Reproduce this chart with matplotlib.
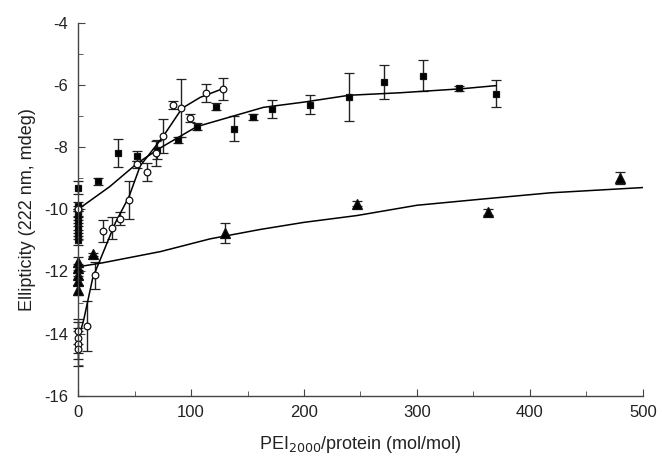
import matplotlib.pyplot as plt
from matplotlib.ticker import MultipleLocator

plt.rcParams['font.family'] = ['Liberation Sans', 'DejaVu Sans']
plt.rcParams['axes.unicode_minus'] = False

# filled squares
sq_x = [0, 0, 0, 0, 0, 0, 0, 0, 18, 35, 52, 70, 88, 105, 122, 138, 155, 172, 205, 240, 271, 305, 337, 370]
sq_y = [-9.3, -9.9, -10.05, -10.2, -10.4, -10.6, -10.8, -11.0, -9.1, -8.2, -8.28, -8.08, -7.76, -7.34,
        -6.7, -7.41, -7.02, -6.77, -6.63, -6.38, -5.9, -5.7, -6.1, -6.28]
sq_err = [0.2, 0.15, 0.15, 0.15, 0.15, 0.15, 0.15, 0.15, 0.12, 0.45, 0.15, 0.3, 0.1, 0.12,
          0.12, 0.4, 0.1, 0.3, 0.3, 0.78, 0.55, 0.5, 0.08, 0.43]
sq_fit_x = [0, 28, 53, 73, 105, 164, 200, 240, 285, 340, 370]
sq_fit_y = [-10.0, -9.27, -8.5, -8.02, -7.34, -6.72, -6.55, -6.33, -6.25, -6.12, -6.02]

# open circles
ci_x = [0, 0, 0, 0, 0, 8, 15, 22, 30, 37, 45, 52, 61, 69, 75, 84, 91, 99, 113, 128]
ci_y = [-10.0, -13.93, -14.13, -14.32, -14.48, -13.75, -12.13, -10.7, -10.6, -10.3, -9.7, -8.55,
        -8.8, -8.2, -7.65, -6.64, -6.73, -7.06, -6.26, -6.12]
ci_err = [0.0, 0.4, 0.5, 0.5, 0.55, 0.8, 0.45, 0.35, 0.35, 0.2, 0.6, 0.12, 0.3, 0.4, 0.55,
          0.12, 0.93, 0.12, 0.3, 0.35]
ci_fit_x = [0, 5, 13, 33, 45, 55, 75, 92, 108, 128]
ci_fit_y = [-14.2, -13.55, -12.2, -10.43, -9.6, -8.6, -7.67, -6.75, -6.4, -6.12]

# filled triangles
tr_x = [0, 0, 0, 0, 0, 13, 130, 247, 363, 480]
tr_y = [-11.7, -11.9, -12.1, -12.3, -12.6, -11.45, -10.75, -9.82, -10.08, -9.0]
tr_err = [0.15, 0.15, 0.15, 0.15, 0.15, 0.05, 0.32, 0.08, 0.1, 0.2]
tr_fit_x = [0, 22, 73, 117, 161, 200, 247, 300, 358, 418, 500]
tr_fit_y = [-11.85, -11.72, -11.36, -10.95, -10.65, -10.42, -10.2, -9.87, -9.67, -9.47, -9.3]

fig = plt.figure(figsize=(6.62, 4.57), dpi=100)
ax = fig.add_axes([0.118, 0.134, 0.853, 0.816])

eb = dict(ecolor='#222222', elinewidth=1.0, capsize=3.5, capthick=1.0, linestyle='none', clip_on=False)
for x, y, e, m, ms, fc in [(sq_x, sq_y, sq_err, 's', 5, 'black'),
                           (ci_x, ci_y, ci_err, 'o', 4.8, 'white'),
                           (tr_x, tr_y, tr_err, '^', 7, 'black')]:
    lines = ax.errorbar(x, y, yerr=e, marker=m, ms=ms, mfc=fc, mec='#111111', mew=0.9, **eb)
    for art in lines.lines[1] + lines.lines[2]:
        art.set_clip_on(False)

ax.plot(sq_fit_x, sq_fit_y, color='black', lw=1.1)
ax.plot(ci_fit_x, ci_fit_y, color='black', lw=1.1)
ax.plot(tr_fit_x, tr_fit_y, color='black', lw=1.1)

ax.set_xlim(0, 500)
ax.set_ylim(-16, -4)
ax.xaxis.set_major_locator(MultipleLocator(100))
ax.xaxis.set_minor_locator(MultipleLocator(50))
ax.yaxis.set_major_locator(MultipleLocator(2))
ax.yaxis.set_minor_locator(MultipleLocator(1))

for s in ['top', 'right']:
    ax.spines[s].set_visible(False)
for s in ['left', 'bottom']:
    ax.spines[s].set_color('#444444')
    ax.spines[s].set_linewidth(1.0)
ax.tick_params(which='both', direction='in', color='#444444', labelsize=12, labelcolor='#222222')
ax.tick_params(which='major', length=5, pad=7)
ax.tick_params(which='minor', length=3.5)

ax.set_xlabel('PEI$_{2000}$/protein (mol/mol)', fontsize=13, color='#222222', labelpad=10)
ax.set_ylabel('Ellipticity (222 nm, mdeg)', fontsize=13, color='#222222', labelpad=6)

fig.savefig('out.png', dpi=100)
